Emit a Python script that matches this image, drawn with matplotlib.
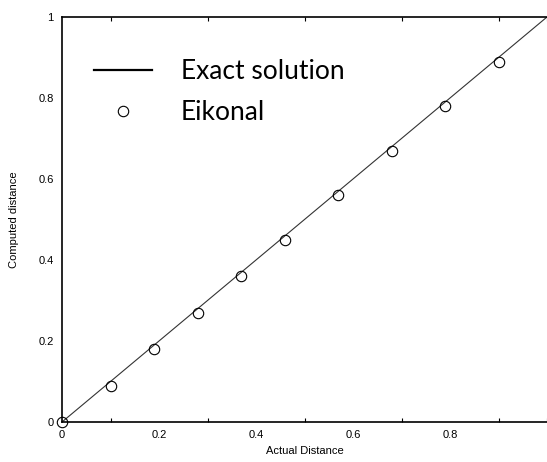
import numpy as np
import matplotlib.pyplot as plt
from matplotlib.ticker import MultipleLocator

# exact solution (y = x) and eikonal samples
exact_x = [0.0, 1.0]
exact_y = [0.0, 1.0]
eik_x = [0.0, 0.10, 0.19, 0.28, 0.37, 0.46, 0.57, 0.68, 0.79, 0.90]
eik_y = [0.0, 0.09, 0.18, 0.27, 0.36, 0.45, 0.56, 0.67, 0.78, 0.89]

xticks = [0, 0.2, 0.4, 0.6, 0.8]
yticks = [0, 0.2, 0.4, 0.6, 0.8, 1]

fig = plt.figure(figsize=(5.47, 4.62), dpi=100)
ax = fig.add_axes([62 / 547, 1 - 422 / 462, 485 / 547, 405 / 462])

ax.plot(exact_x, exact_y, color='#333333', lw=0.8, label='Exact solution')
ax.plot(eik_x, eik_y, 'o', mfc='none', mec='black', mew=0.8, ms=7.5,
        clip_on=False, label='Eikonal')

ax.set_xlim(0, 1)
ax.set_ylim(0, 1)
ax.set_xticks(xticks)
ax.set_xticklabels(['0', '0.2', '0.4', '0.6', '0.8'])
ax.set_yticks(yticks)
ax.set_yticklabels(['0', '0.2', '0.4', '0.6', '0.8', '1'])
ax.xaxis.set_minor_locator(MultipleLocator(0.1))
ax.tick_params(which='major', length=0, labelsize=8, pad=6)
ax.tick_params(axis='x', which='minor', direction='in', length=3,
               top=True, bottom=True, width=0.8)
ax.tick_params(axis='y', which='minor', length=0)
for lab in ax.get_xticklabels() + ax.get_yticklabels():
    lab.set_family('Liberation Sans')

for s in ['left', 'bottom', 'top']:
    ax.spines[s].set_linewidth(1.2)
ax.spines['right'].set_visible(False)

ax.set_xlabel('Actual Distance', fontsize=8, family='Liberation Sans', labelpad=4)
ax.set_ylabel('Computed distance', fontsize=8, family='Liberation Sans', labelpad=14)

leg = ax.legend(loc='upper left', bbox_to_anchor=(0.017, 0.955), frameon=False,
                prop={'family': 'Lato', 'size': 19},
                handlelength=2.2, handletextpad=1.1, labelspacing=0.6,
                numpoints=1)
for t in leg.get_texts():
    t.set_color('black')
leg.legend_handles[0].set_linewidth(1.6)
leg.legend_handles[0].set_color('black')

fig.savefig('out.png', dpi=100)
